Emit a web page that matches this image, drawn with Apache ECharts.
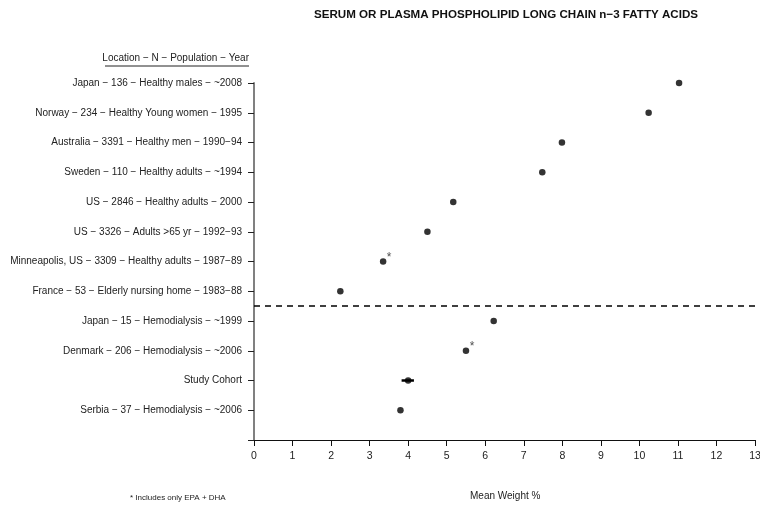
<!DOCTYPE html>
<html><head><meta charset="utf-8">
<script src="https://cdn.jsdelivr.net/npm/echarts@6/dist/echarts.min.js"></script>
<style>html,body{margin:0;padding:0;background:#fff}#c{width:760px;height:508px}</style>
</head><body><div id="c"></div>
<script>
// categories from bottom (position 1) to top (position 12)
var categories = [
  "Serbia \u2212 37 \u2212 Hemodialysis \u2212 ~2006",
  "Study Cohort",
  "Denmark \u2212 206 \u2212 Hemodialysis \u2212 ~2006",
  "Japan \u2212 15 \u2212 Hemodialysis \u2212 ~1999",
  "France \u2212 53 \u2212 Elderly nursing home \u2212 1983\u221288",
  "Minneapolis, US \u2212 3309 \u2212 Healthy adults \u2212 1987\u221289",
  "US \u2212 3326 \u2212 Adults >65 yr \u2212 1992\u221293",
  "US \u2212 2846 \u2212 Healthy adults \u2212 2000",
  "Sweden \u2212 110 \u2212 Healthy adults \u2212 ~1994",
  "Australia \u2212 3391 \u2212 Healthy men \u2212 1990\u221294",
  "Norway \u2212 234 \u2212 Healthy Young women \u2212 1995",
  "Japan \u2212 136 \u2212 Healthy males \u2212 ~2008"
];
var meanValues = [3.80, 4.00, 5.50, 6.22, 2.24, 3.35, 4.50, 5.17, 7.48, 7.99, 10.24, 11.03];
var epaDhaOnly = [false, false, true, false, false, true, false, false, false, false, false, false];
var cohortLow = 3.83, cohortHigh = 4.15, cohortPos = 2;
var separatorPos = 4.5;
var xTicks = [0,1,2,3,4,5,6,7,8,9,10,11,12,13];

var FONT = '"Liberation Sans", Arial, sans-serif';
var chart = echarts.init(document.getElementById('c'), null, {renderer:'canvas'});
var pts = meanValues.map(function(v,i){
  return {value:[v,i+1], label:{show:epaDhaOnly[i]}};
});
chart.setOption({
  animation:false,
  grid:{left:254,right:5,top:83,bottom:68,containLabel:false,outerBoundsMode:'none'},
  xAxis:{type:'value',min:xTicks[0],max:xTicks[xTicks.length-1],interval:1,
    axisLine:{show:true,onZero:false,lineStyle:{color:'#111',width:1.2}},
    axisTick:{show:true,length:6,lineStyle:{color:'#111'}},
    axisLabel:{color:'#222',fontSize:10.5,fontFamily:FONT,margin:11},
    splitLine:{show:false}},
  yAxis:{type:'value',min:0,max:12,interval:1,
    axisLine:{show:true,onZero:false,lineStyle:{color:'#808080',width:2}},
    axisTick:{show:true,length:6,lineStyle:{color:'#222'}},
    axisLabel:{color:'#222',fontSize:10,fontFamily:FONT,margin:12,
      formatter:function(v){return (v>=1 && v<=12)?categories[v-1]:'';}},
    splitLine:{show:false}},
  series:[
    {type:'line',data:[[cohortLow,cohortPos],[cohortHigh,cohortPos]],symbol:'none',
      lineStyle:{color:'#000',width:2.5},silent:true,z:1},
    {type:'scatter',data:pts,symbol:'circle',symbolSize:6.5,
      itemStyle:{color:'#000'},
      label:{position:'inside',offset:[6,-4],formatter:'*',fontSize:12,color:'#222',fontFamily:FONT},
      markLine:{silent:true,symbol:'none',label:{show:false},
        lineStyle:{color:'#000',type:[6,5],width:1.5},
        data:[{yAxis:separatorPos}]},z:2}
  ],
  graphic:[
    {type:'text',left:314,top:9,style:{text:'SERUM OR PLASMA PHOSPHOLIPID LONG CHAIN n\u22123 FATTY ACIDS',
      font:'bold 11.6px '+FONT,fill:'#111'}},
    {type:'text',right:760-249,top:53,style:{text:'Location \u2212 N \u2212 Population \u2212 Year',font:'10px '+FONT,fill:'#222'}},
    {type:'line',shape:{x1:105,y1:66,x2:249,y2:66},style:{stroke:'#222',lineWidth:1}},
    {type:'text',left:470,top:491,style:{text:'Mean Weight %',font:'10px '+FONT,fill:'#222'}},
    {type:'text',left:130,top:494,style:{text:'* Includes only EPA + DHA',font:'8px '+FONT,fill:'#222'}}
  ]
});
</script></body></html>
